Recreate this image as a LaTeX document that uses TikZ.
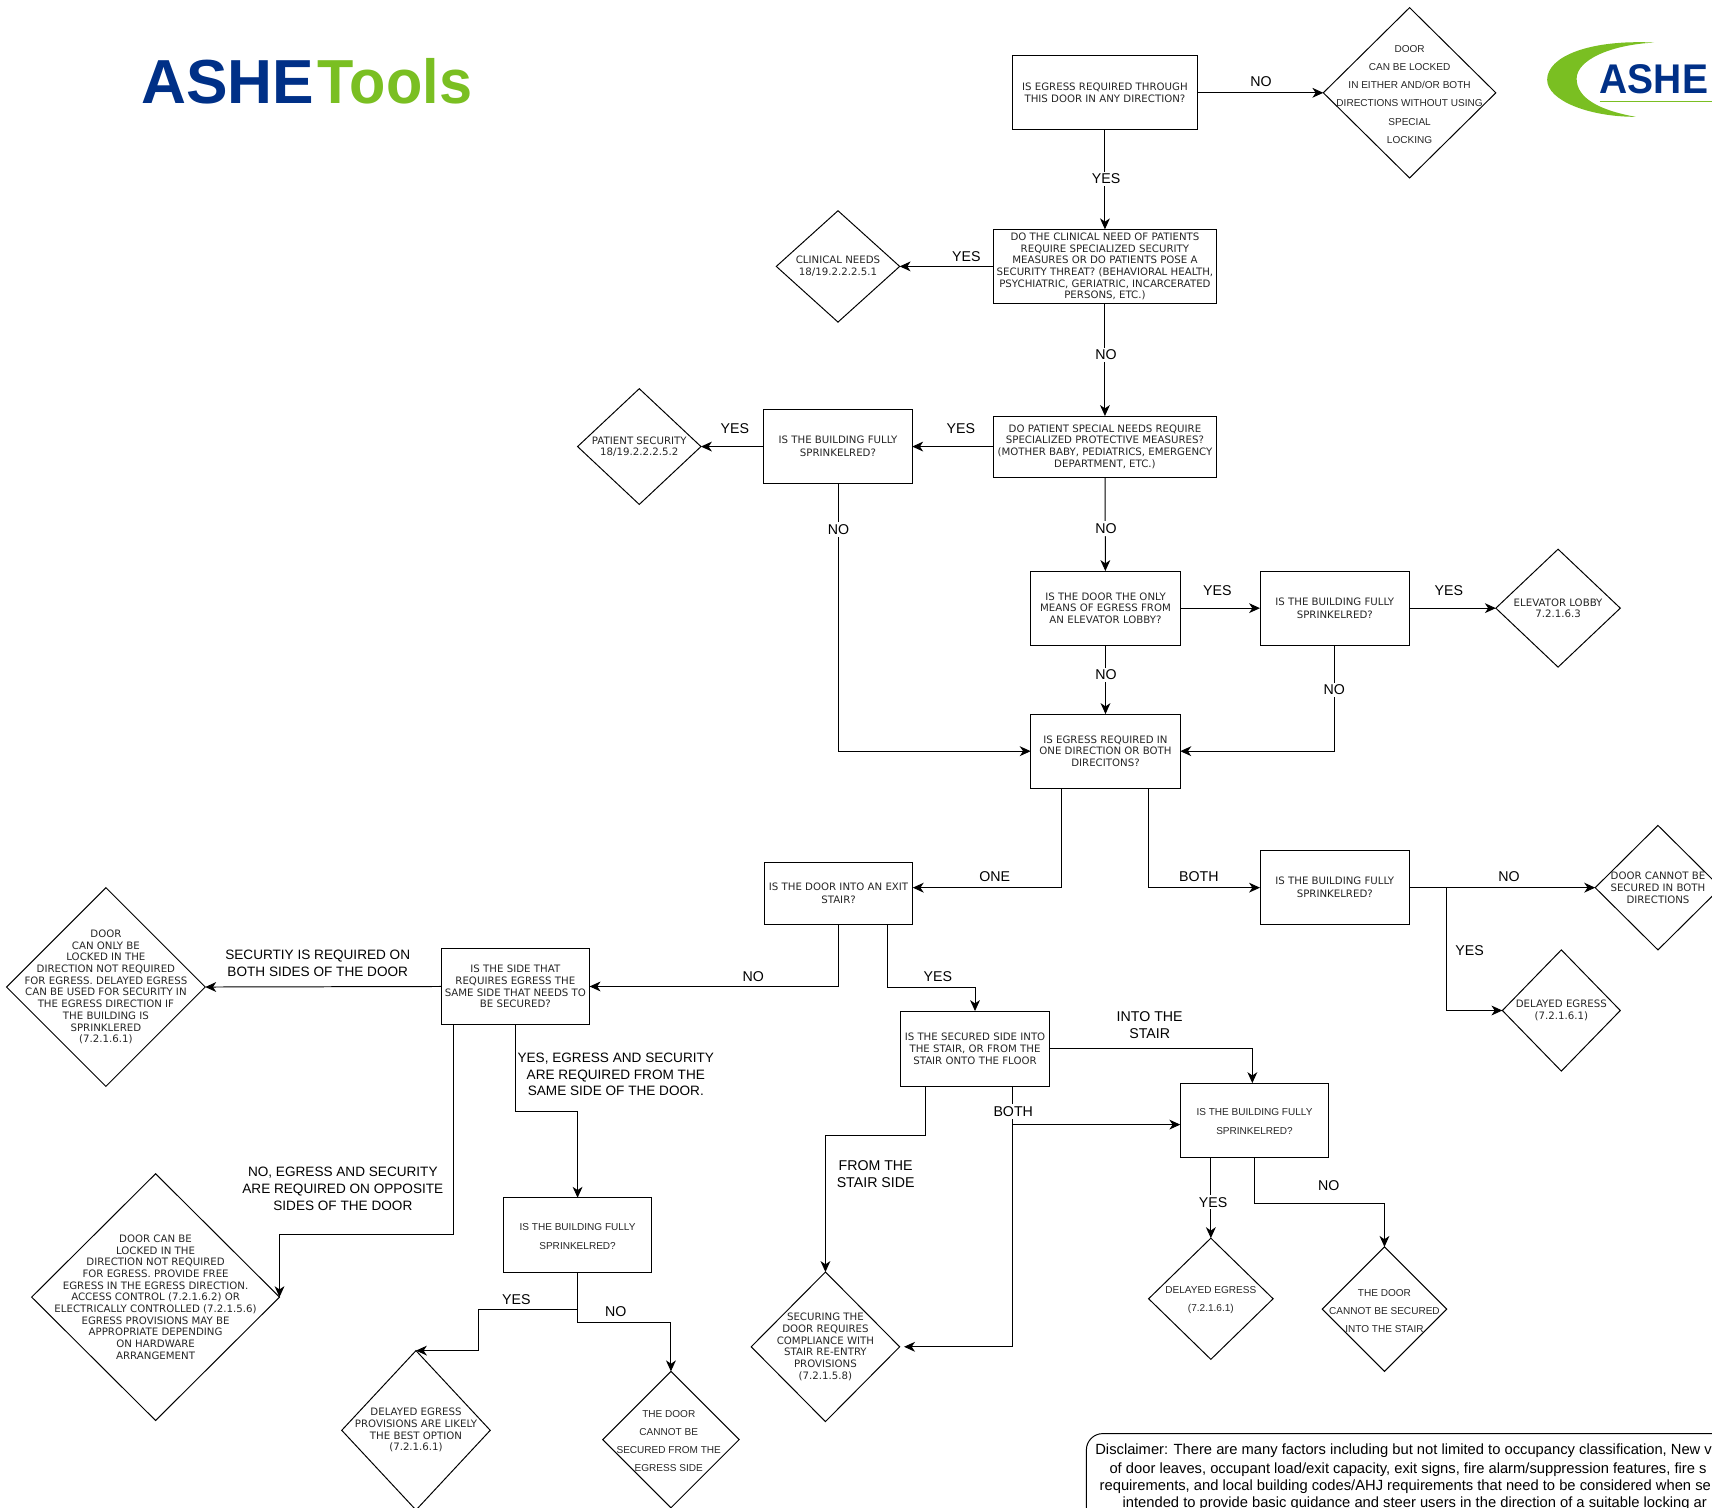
\documentclass[tikz,border=0pt]{standalone}
\usepackage{fontspec}
\setmainfont{DejaVu Sans}
\newfontfamily\arialf{Liberation Sans}
\usetikzlibrary{arrows.meta,calc,shapes.geometric}
\definecolor{ashenavy}{HTML}{003087}
\definecolor{ashegreen}{HTML}{7ABF22}
\tikzset{
  bx/.style={draw=black,line width=0.9pt,rectangle,inner sep=0pt,outer sep=0pt,align=center,
     text=black!85,font=\fontsize{9.35}{10.7}\selectfont},
  bxm/.style={bx,font=\fontsize{9.35}{12}\selectfont},
  dia/.style={draw=black,line width=0.9pt,diamond,inner sep=0pt,outer sep=0pt},
  dtext/.style={align=center,inner sep=0pt,text=black!85,font=\fontsize{9.35}{10.7}\selectfont},
  dtextw/.style={dtext,yshift=-1.5pt,font=\arialf\fontsize{9.2}{16.6}\selectfont},
  arr/.style={draw=black,line width=0.9pt,-{Stealth[length=10pt,width=9pt,inset=3pt]}},
  lab/.style={font=\arialf\fontsize{13}{15.5}\selectfont,align=center,inner sep=1pt,text=black,yshift=-1pt},
  labl/.style={lab,font=\arialf\fontsize{12.45}{15.5}\selectfont},
  labw/.style={lab,fill=white,inner sep=2pt},
  disc/.style={anchor=base west,inner sep=0pt,font=\arialf\fontsize{13.5}{15}\selectfont},
}
\begin{document}
\begin{tikzpicture}[x=1pt,y=-1pt]
\useasboundingbox (0,0) rectangle (1568,1381);
\clip (0,0) rectangle (1568,1381);
% logos
\node[anchor=base west,inner sep=0pt,text=ashenavy,font=\arialf\bfseries\fontsize{57}{57}\selectfont] (logoA) at (129,95) {ASHE};
\node[anchor=base west,inner sep=0pt,text=ashegreen,transform shape,xscale=.955,font=\arialf\bfseries\fontsize{57}{57}\selectfont] (logoB) at (291,95) {Tools};
\fill[ashegreen] (1515,39) .. controls (1455,36) and (1417,52) .. (1417,73) .. controls (1417,92) and (1455,107) .. (1498,107) .. controls (1465,101) and (1444,90) .. (1444,72) .. controls (1444,55) and (1475,41) .. (1515,39) -- cycle;
\node[anchor=base west,inner sep=0pt,text=ashenavy,transform shape,xscale=.94,font=\arialf\bfseries\fontsize{38}{38}\selectfont] (logoC) at (1465,85.5) {ASHE};
\draw[ashegreen,line width=0.9pt] (1465,92.5) -- (1568,92.5);

% rectangles
\node[bx,minimum width=170,minimum height=68] (R1) at (1012,85) {IS EGRESS REQUIRED THROUGH\\THIS DOOR IN ANY DIRECTION?};
\node[bx,minimum width=204,minimum height=68] (R2) at (1012,244) {DO THE CLINICAL NEED OF PATIENTS\\REQUIRE SPECIALIZED SECURITY\\MEASURES OR DO PATIENTS POSE A\\SECURITY THREAT? (BEHAVIORAL HEALTH,\\PSYCHIATRIC, GERIATRIC, INCARCERATED\\PERSONS, ETC.)};
\node[bx,minimum width=204,minimum height=56] (R3) at (1012,409) {DO PATIENT SPECIAL NEEDS REQUIRE\\SPECIALIZED PROTECTIVE MEASURES?\\(MOTHER BABY, PEDIATRICS, EMERGENCY\\DEPARTMENT, ETC.)};
\node[bxm,minimum width=136,minimum height=68] (R4) at (767.5,409) {IS THE BUILDING FULLY\\SPRINKELRED?};
\node[bx,minimum width=137,minimum height=68] (R5) at (1012.5,557) {IS THE DOOR THE ONLY\\MEANS OF EGRESS FROM\\AN ELEVATOR LOBBY?};
\node[bxm,minimum width=137,minimum height=68] (R6) at (1222.5,557) {IS THE BUILDING FULLY\\SPRINKELRED?};
\node[bx,minimum width=137,minimum height=68] (R7) at (1012.5,688) {IS EGRESS REQUIRED IN\\ONE DIRECTION OR BOTH\\DIRECITONS?};
\node[bxm,minimum width=136,minimum height=57] (R8) at (768,818.5) {IS THE DOOR INTO AN EXIT\\STAIR?};
\node[bxm,minimum width=137,minimum height=68] (R9) at (1222.5,813) {IS THE BUILDING FULLY\\SPRINKELRED?};
\node[bx,minimum width=136,minimum height=69] (R10) at (472,903.5) {IS THE SIDE THAT\\REQUIRES EGRESS THE\\SAME SIDE THAT NEEDS TO\\BE SECURED?};
\node[bx,minimum width=136,minimum height=69] (R11) at (893,960.5) {IS THE SECURED SIDE INTO\\THE STAIR, OR FROM THE\\STAIR ONTO THE FLOOR};
\node[bx,minimum width=136,minimum height=68,label={[dtextw,font=\arialf\fontsize{9.2}{17.6}\selectfont]center:{IS THE BUILDING FULLY\\SPRINKELRED?}}] (R12) at (1149,1026) {};
\node[bx,minimum width=136,minimum height=68,label={[dtextw]center:{IS THE BUILDING FULLY\\SPRINKELRED?}}] (R13) at (529,1131) {};

% diamonds
\node[dia,minimum width=158,minimum height=156,label={[dtextw]center:{DOOR\\CAN BE LOCKED\\IN EITHER AND/OR BOTH\\DIRECTIONS WITHOUT USING\\SPECIAL\\LOCKING}}] (D1) at (1291,85) {};
\node[dia,minimum width=113,minimum height=102,label={[dtext]center:{CLINICAL NEEDS\\18/19.2.2.2.5.1}}] (D2) at (767.5,244) {};
\node[dia,minimum width=113,minimum height=106,label={[dtext]center:{PATIENT SECURITY\\18/19.2.2.2.5.2}}] (D3) at (585.5,409) {};
\node[dia,minimum width=114,minimum height=108,label={[dtext]center:{ELEVATOR LOBBY\\7.2.1.6.3}}] (D4) at (1427,557) {};
\node[dia,minimum width=115,minimum height=114,label={[dtext]center:{DOOR CANNOT BE\\SECURED IN BOTH\\DIRECTIONS}}] (D5) at (1518.5,813) {};
\node[dia,minimum width=108,minimum height=111,label={[dtext]center:{DELAYED EGRESS\\(7.2.1.6.1)}}] (D6) at (1430,925.5) {};
\node[dia,minimum width=182,minimum height=182,label={[dtext]center:{DOOR\\CAN ONLY BE\\LOCKED IN THE\\DIRECTION NOT REQUIRED\\FOR EGRESS. DELAYED EGRESS\\CAN BE USED FOR SECURITY IN\\THE EGRESS DIRECTION IF\\THE BUILDING IS\\SPRINKLERED\\(7.2.1.6.1)}}] (D7) at (97,904) {};
\node[dia,minimum width=227,minimum height=226,label={[dtext]center:{DOOR CAN BE\\LOCKED IN THE\\DIRECTION NOT REQUIRED\\FOR EGRESS. PROVIDE FREE\\EGRESS IN THE EGRESS DIRECTION.\\ACCESS CONTROL (7.2.1.6.2) OR\\ELECTRICALLY CONTROLLED (7.2.1.5.6)\\EGRESS PROVISIONS MAY BE\\APPROPRIATE DEPENDING\\ON HARDWARE\\ARRANGEMENT}}] (D8) at (142.5,1188) {};
\node[dia,minimum width=136,minimum height=146,label={[dtext]center:{DELAYED EGRESS\\PROVISIONS ARE LIKELY\\THE BEST OPTION\\(7.2.1.6.1)}}] (D9) at (381,1310) {};
\node[dia,minimum width=125,minimum height=125,label={[dtextw,xshift=-2pt]center:{THE DOOR\\CANNOT BE\\SECURED FROM THE\\EGRESS SIDE}}] (D10) at (614.5,1318.5) {};
\node[dia,minimum width=136,minimum height=137,label={[dtext]center:{SECURING THE\\DOOR REQUIRES\\COMPLIANCE WITH\\STAIR RE-ENTRY\\PROVISIONS\\(7.2.1.5.8)}}] (D11) at (756,1233.5) {};
\node[dia,minimum width=114,minimum height=111,label={[dtextw]center:{DELAYED EGRESS\\(7.2.1.6.1)}}] (D12) at (1109,1189.5) {};
\node[dia,minimum width=114,minimum height=114,label={[dtextw]center:{THE DOOR\\CANNOT BE SECURED\\INTO THE STAIR}}] (D13) at (1268,1199) {};

% disclaimer
\draw[line width=0.9pt,rounded corners=15pt] (1620,1313) -- (995,1313) -- (995,1420) -- (1620,1420);
\node[disc] (dis1) at (1003,1332.5) {Disclaimer: There are many factors including but not limited to occupancy classification, New v};
\node[disc] (dis2) at (1016,1349.5) {of door leaves, occupant load/exit capacity, exit signs, fire alarm/suppression features, fire s};
\node[disc] (dis3) at (1007,1365.5) {requirements, and local building codes/AHJ requirements that need to be considered when se};
\node[disc] (dis4) at (1028,1381) {intended to provide basic guidance and steer users in the direction of a suitable locking ar};

% connectors
\draw[arr] (R1) -- (D1);
\draw[arr] (R1) -- (R2);
\draw[arr] (R2) -- (D2);
\draw[arr] (R2) -- (R3);
\draw[arr] (R3) -- (R4);
\draw[arr] (R4) -- (D3);
\draw[arr] (R4.south) |- (R7.west);
\draw[arr] (R3) -- (R5);
\draw[arr] (R5) -- (R6);
\draw[arr] (R6) -- (D4);
\draw[arr] (R5) -- (R7);
\draw[arr] (R6.south) |- (R7.east);
\coordinate (R7a) at ($(R7.south)+(-40.5,0)$);
\coordinate (R7b) at ($(R7.south)+(39.5,0)$);
\draw[arr] (R7a) |- (R8.east |- D5);
\draw[arr] (R7b) |- (R9.west);
\draw[arr] (R9.east) -- (D5.west);
\coordinate (R9j) at ($(R9.east)+(34,0)$);
\draw[arr] (R9j) |- (D6.west);
\coordinate (R8a) at ($(R8.south)+(45,0)$);
\draw[arr] (R8.south) |- (R10.east);
\draw[arr] (R8a) -- ($(R8a)+(0,57)$) -| (R11.north);
\draw[arr] (R10.west) -- (D7.east);
\coordinate (R10a) at ($(R10.south west)+(11,0)$);
\coordinate (D8up) at ($(D8.east)+(0,-57)$);
\draw[arr] (R10a) |- (D8up) -- (D8.east);
\coordinate (R10m) at ($(R10.south)+(0,80)$);
\draw[arr] (R10.south) -- (R10m) -| (R13.north);
\coordinate (R13y) at ($(R13.south)+(0,34)$);
\coordinate (R13n) at ($(R13.south)+(0,46)$);
\coordinate (D9up) at ($(D9.north)+(57,0)$);
\draw[arr] (R13.south) -- (R13y) -| (D9up) -- (D9.north);
\draw[arr] (R13y) -- (R13n) -| (D10.north);
\coordinate (R11e) at (R11.east);
\coordinate (R12t) at ($(R12.north)+(-2,0)$);
\draw[arr] (R11e) -| (R12t);
\coordinate (R11a) at ($(R11.south)+(-45,0)$);
\coordinate (R11am) at ($(R11a)+(0,45)$);
\draw[arr] (R11a) -- (R11am) -| (D11.north);
\coordinate (R11b) at ($(R11.south)+(34,0)$);
\coordinate (R12w) at ($(R12.west)+(0,4)$);
\coordinate (R11bj) at (R11b |- R12w);
\coordinate (R11bk) at (R11b |- D11.east);
\coordinate (D11tip) at ($(D11.east)+(4,0)$);
\draw[arr] (R11b) -- (R11bj) -- (R12w);
\draw[arr] (R11bj) -- (R11bk) -- (D11tip);
\coordinate (R12a) at (D12.north |- R12.south);
\draw[arr] (R12a) -- (D12.north);
\coordinate (R12m) at ($(R12.south)+(0,42)$);
\draw[arr] (R12.south) -- (R12m) -| (D13.north);

% labels
\node[lab] (L1) at (1155,74) {NO};
\node[labw] (L2) at (1013,163) {YES};
\node[lab] (L3) at (885,234) {YES};
\node[labw] (L4) at (1013,324) {NO};
\node[lab] (L5) at (880,392) {YES};
\node[lab] (L6) at (673,392) {YES};
\node[labw] (L7) at (768,484) {NO};
\node[labw] (L8) at (1013,483) {NO};
\node[lab] (L9) at (1115,540) {YES};
\node[lab] (L10) at (1327,540) {YES};
\node[labw] (L11) at (1013,617) {NO};
\node[labw] (L12) at (1222,631) {NO};
\node[lab] (L13) at (911,802) {ONE};
\node[lab] (L14) at (1098,802) {BOTH};
\node[lab] (L15) at (1382,802) {NO};
\node[lab] (L16) at (1346,870) {YES};
\node[lab] (L17) at (690,893) {NO};
\node[lab] (L18) at (859,893) {YES};
\node[labl] (L19) at (291,881) {SECURTIY IS REQUIRED ON\\BOTH SIDES OF THE DOOR};
\node[labl] (L20) at (564,983) {YES, EGRESS AND SECURITY\\ARE REQUIRED FROM THE\\SAME SIDE OF THE DOOR.};
\node[labl] (L21) at (314,1088) {NO, EGRESS AND SECURITY\\ARE REQUIRED ON OPPOSITE\\SIDES OF THE DOOR};
\node[lab] (L22) at (473,1189) {YES};
\node[lab] (L23) at (564,1200) {NO};
\node[lab] (L24) at (1053,938) {INTO THE\\STAIR};
\node[lab] (L25) at (802,1074) {FROM THE\\STAIR SIDE};
\node[labw] (L26) at (928,1017) {BOTH};
\node[labw] (L27) at (1111,1100) {YES};
\node[lab] (L28) at (1217,1085) {NO};
\end{tikzpicture}
\end{document}
